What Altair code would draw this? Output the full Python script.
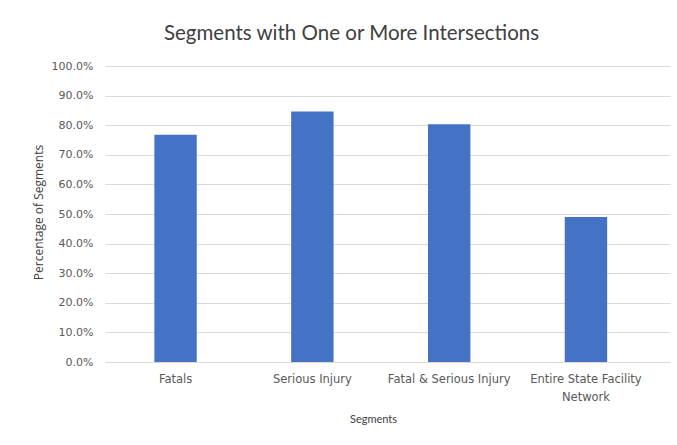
import altair as alt
import pandas as pd

categories = ["Fatals", "Serious Injury", "Fatal & Serious Injury", "Entire State Facility Network"]
values = [0.768, 0.846, 0.803, 0.490]

df = pd.DataFrame({"segment": categories, "pct": values})

FONT = "Lato"
LFONT = "DejaVu Sans"
TFONT = "Open Sans"

chart = alt.Chart(df).mark_bar(color="#4472C4").encode(
    x=alt.X(
        "segment:N",
        sort=categories,
        scale=alt.Scale(paddingInner=0.69, paddingOuter=0.41, align=0.44),
        axis=alt.Axis(
            title="Segments",
            labelAngle=0,
            labelFont=LFONT,
            labelFontSize=11.5,
            labelColor="#595959",
            labelPadding=11,
            labelExpr="datum.value == 'Entire State Facility Network' ? ['Entire State Facility', 'Network'] : datum.value",
            labelLineHeight=18,
            ticks=False,
            domain=True,
            domainColor="#d9d9d9",
            grid=False,
            titleFont=FONT,
            titleFontSize=11,
            titleFontWeight="normal",
            titleColor="#404040",
            titleX=268,
            titleY=51,
        ),
    ),
    y=alt.Y(
        "pct:Q",
        scale=alt.Scale(domain=[0, 1], nice=False),
        axis=alt.Axis(
            title="Percentage of Segments",
            format=".1%",
            values=[i / 10 for i in range(11)],
            labelFont=LFONT,
            labelFontSize=11,
            labelColor="#595959",
            labelPadding=12,
            ticks=False,
            domain=False,
            grid=True,
            gridColor="#d9d9d9",
            titleFont=TFONT,
            titleFontSize=12,
            titleFontWeight="normal",
            titleColor="#404040",
            titleX=-67,
            titleY=146,
            titleAngle=-90,
            titleAlign="center",
            titleBaseline="middle",
        ),
    ),
).properties(
    width=565,
    height=296,
    title=alt.TitleParams(
        "Segments with One or More Intersections",
        font=FONT,
        fontSize=20.5,
        fontWeight="normal",
        color="#404040",
        anchor="middle",
        frame="group",
        dx=-36,
        offset=16,
    ),
    autosize=alt.AutoSizeParams(type="none"),
    padding={"left": 105, "top": 66, "right": 7, "bottom": 83},
).configure(background="white").configure_view(strokeWidth=0, stroke="transparent")

chart.save("out.html", embed_options={"renderer": "svg", "actions": False})
